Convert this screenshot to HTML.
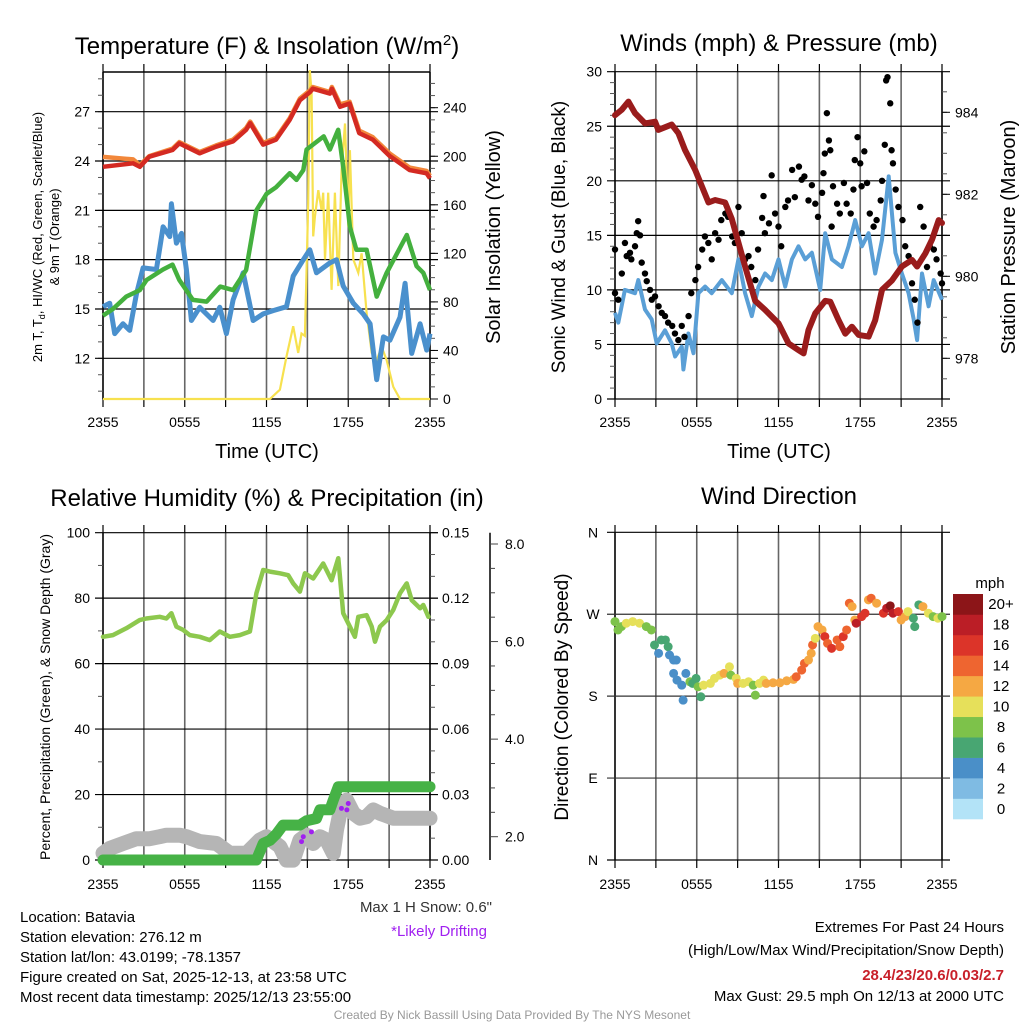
<!DOCTYPE html>
<html><head><meta charset="utf-8"><style>
html,body{margin:0;padding:0;background:#fff}
svg{display:block;font-family:"Liberation Sans",Arial,sans-serif}
</style></head><body>
<svg id="s" width="1024" height="1024" viewBox="0 0 1024 1024" xmlns="http://www.w3.org/2000/svg">
<rect width="1024" height="1024" fill="#fff"/>
<g id="g"></g>
<text x="267" y="54" font-size="24" text-anchor="middle">Temperature (F) &amp; Insolation (W/m<tspan dy="-9" font-size="15">2</tspan><tspan dy="9">)</tspan></text>
<text x="779" y="51" font-size="24" text-anchor="middle">Winds (mph) &amp; Pressure (mb)</text>
<text x="267" y="506" font-size="24" text-anchor="middle">Relative Humidity (%) &amp; Precipitation (in)</text>
<text x="779" y="504" font-size="24" text-anchor="middle">Wind Direction</text>
<text x="267" y="458" font-size="20" text-anchor="middle">Time (UTC)</text>
<text x="779" y="458" font-size="20" text-anchor="middle">Time (UTC)</text>
<text transform="translate(42,237) rotate(-90)" font-size="13" text-anchor="middle">2m T, T<tspan dy="3" font-size="9">d</tspan><tspan dy="-3">, HI/WC (Red, Green, Scarlet/Blue)</tspan></text>
<text transform="translate(59,237) rotate(-90)" font-size="13" text-anchor="middle">&amp; 9m T (Orange)</text>
<text transform="translate(500,237) rotate(-90)" font-size="20" text-anchor="middle">Solar Insolation (Yellow)</text>
<text transform="translate(565,237) rotate(-90)" font-size="19" text-anchor="middle">Sonic Wind &amp; Gust (Blue, Black)</text>
<text transform="translate(1015,237) rotate(-90)" font-size="20" text-anchor="middle">Station Pressure (Maroon)</text>
<text transform="translate(50,697) rotate(-90)" font-size="14" text-anchor="middle">Percent, Precipitation (Green), &amp; Snow Depth (Gray)</text>
<text transform="translate(568,697) rotate(-90)" font-size="19" text-anchor="middle">Direction (Colored By Speed)</text>
<text x="990" y="588" font-size="15" text-anchor="middle">mph</text>
<g font-size="15">
<text x="20" y="922">Location: Batavia</text>
<text x="20" y="942">Station elevation: 276.12 m</text>
<text x="20" y="962">Station lat/lon: 43.0199; -78.1357</text>
<text x="20" y="982">Figure created on Sat, 2025-12-13, at 23:58 UTC</text>
<text x="20" y="1002">Most recent data timestamp: 2025/12/13 23:55:00</text>
</g>
<text x="492" y="912" font-size="15" fill="#333" text-anchor="end">Max 1 H Snow: 0.6"</text>
<text x="487" y="936" font-size="15" fill="#a020f0" text-anchor="end">*Likely Drifting</text>
<g font-size="15" text-anchor="end">
<text x="1004" y="932">Extremes For Past 24 Hours</text>
<text x="1004" y="955">(High/Low/Max Wind/Precipitation/Snow Depth)</text>
<text x="1004" y="980" fill="#c8202a" font-weight="bold">28.4/23/20.6/0.03/2.7</text>
<text x="1004" y="1001">Max Gust: 29.5 mph On 12/13 at 2000 UTC</text>
</g>
<text x="512" y="1019" font-size="12" fill="#999" text-anchor="middle">Created By Nick Bassill Using Data Provided By The NYS Mesonet</text>
</svg>
<script>
// ---- Panel 1 data ----
const tTemp=[0,2.2,2.7,3.4,5.1,5.6,7.1,8.3,9.55,10.5,10.8,11.75,12.7,13.7,14.45,15.2,15.4,16.65,16.8,17.4,18.1,18.8,19.8,21.05,22.5,23.75,24];
const tempVals=[23.65,23.86,23.65,24.26,24.67,25.07,24.47,24.87,25.2,25.9,26.3,25,25.3,26.5,27.7,28.2,28.4,28.1,28.4,27.3,27.5,25.7,25.3,24.3,23.45,23.25,22.95];
const orangeVals=[24.25,24.1,23.75,24.3,24.75,25.15,24.55,24.95,25.3,26.0,26.4,25.1,25.4,26.6,27.8,28.3,28.5,28.2,28.5,27.45,27.6,25.85,25.45,24.45,23.6,23.4,23.1];
const tDew=[0,0.73,1.7,2.7,3.2,4.4,5.1,5.6,6.6,7.6,8.6,9.55,10.5,11.26,12,12.7,13.7,14.2,14.7,14.94,16.2,16.65,17.26,17.63,18.12,18.6,19.35,20.09,20.82,22.3,23.02,23.51,24];
const dewVals=[14.6,15.0,15.75,16.15,16.76,17.4,17.7,16.76,15.55,15.45,16.36,16.15,17.37,21.0,22.0,22.4,23.25,22.85,23.45,24.7,25.5,24.7,25.9,23.65,20.0,18.6,18.6,15.75,17.2,19.5,17.6,17.2,16.15];
const tWc=[0,0.49,0.86,1.47,1.96,2.45,2.94,3.92,4.41,4.9,5.02,5.39,5.76,6.12,6.49,7.1,8.08,8.57,9.06,9.55,10.29,11.02,11.76,12.49,13.47,13.96,14.7,15.18,15.67,16.65,17.14,17.63,18.37,19.1,19.6,20.09,20.58,21.06,21.8,22.17,22.66,23.27,23.76,24];
const wcVals=[15.14,15.35,13.5,14.1,13.7,15.9,17.5,17.4,20,19.4,21.4,19,19.6,17.4,14.3,15.1,14.3,15.1,13.5,15.55,17.2,14.3,14.7,14.9,15.14,17,18,18.6,17.2,17.8,18,16.4,15.35,14.7,14.1,10.7,13.3,13.1,14.5,16.56,12.3,14.1,12.5,13.5];
const tSolar=[0,12.25,12.98,13.47,13.96,14.33,14.57,14.82,15.06,15.18,15.31,15.43,15.55,15.8,16.04,16.16,16.29,16.53,16.78,17.02,17.27,17.51,17.76,18.0,18.12,18.37,18.74,18.98,19.35,19.72,20.09,20.45,20.82,21.31,21.8,24];
const solarVals=[0,0,7.7,35,60,38,54,52,161,271,252,134,150,172,156,170,115,170,90,170,93,189,227,142,205,115,104,120,71,38,32,43,32,10,0,0];
const p1Ticks=[12,15,18,21,24,27];
const p1RTicks=[0,40,80,120,160,200,240];
const timeLabels=["2355","0555","1155","1755","2355"];
// ---- Panel 2 data ----
const tWind=[0,0.24,0.73,1.47,1.71,2.2,2.69,3.06,3.67,4.16,4.41,4.9,5.02,5.39,5.76,6.12,6.61,7.1,7.84,8.57,9.06,9.55,10.04,10.53,11.02,11.51,12,12.49,12.98,13.47,13.96,14.45,15.06,15.43,15.92,16.65,17.14,17.63,18.12,18.61,19.1,19.6,20.09,20.58,21.06,21.55,21.92,22.17,22.53,23.02,23.39,24];
const windVals=[7.9,7,10,9.7,10.9,8.2,7.3,5.1,6.3,5.1,3.9,4.8,2.7,6,4.2,9.7,10.3,9.7,10.9,9.7,12.8,9.7,7.6,10.3,11.5,10.9,12.8,10.3,12.8,14,12.8,13.4,10,15.2,12.8,12.1,14,16.4,14,15.2,11.5,14.6,20.4,13.4,11.5,9.7,7.3,5.4,11.5,8.5,10.9,9.1];
const tGust=[0,0,0.24,0.5,0.73,0.86,1.1,1.2,1.47,1.6,1.7,1.84,1.96,2.2,2.33,2.57,2.7,2.94,3.2,3.43,3.67,3.9,4.2,4.4,4.65,4.9,5.1,5.4,5.6,5.9,6.1,6.4,6.6,6.85,7.1,7.35,7.6,7.8,8.1,8.3,8.6,8.8,9.06,9.3,9.55,9.8,10,10.3,10.5,10.8,10.9,11,11.3,11.5,11.75,12,12.2,12.5,12.7,13,13.2,13.5,13.7,13.9,14.2,14.45,14.7,14.9,15.2,15.3,15.4,15.55,15.7,15.8,15.9,16,16.3,16.5,16.8,17,17.3,17.5,17.6,17.8,18,18.1,18.3,18.5,18.7,18.98,19.2,19.5,19.6,19.8,19.9,20,20.2,20.3,20.4,20.6,20.8,21.1,21.3,21.55,21.8,22,22.2,22.4,22.65,22.9,23.1,23.4,23.6,23.9,24];
const gustVals=[13.7,9.7,9.1,11.5,14.3,13.1,13.4,12.8,14,15.2,16.3,15,12.5,11.5,10.8,10,9.1,9.4,8.5,7.9,7.6,7,6.7,6,5.4,6.7,5.7,7.6,9.7,10.9,12.1,13.7,14.9,14.3,12.8,15.2,14.6,16.4,17,16.7,14.9,14.3,17.6,15.2,12.8,13.1,12.1,10.9,13.7,16.6,18.6,15.2,16.1,20.5,17,15.8,14,17.6,18.2,21,18.5,21.3,20.1,20.4,18.2,19.6,17.9,16.7,18.9,20.7,22.5,26.2,23.7,22.8,15.8,19.5,17.9,17,19.8,17.9,17,19.2,21.9,24,21.6,19.5,22.7,19.8,17,15.8,16.4,18.2,20,23.3,29.2,29.5,27.1,22.8,21.6,19.2,17.6,16.4,14,13.1,10.6,9.1,7,17.6,15.8,12.1,14,13.7,12.8,11.5,10.6];
const tPres=[0,0.49,0.98,1.47,2.2,2.94,3.18,4.16,4.65,5.14,5.88,6.37,6.86,7.35,8.08,8.57,9.55,10.29,11.02,12,12.74,13.47,13.84,14.2,14.7,15.43,15.8,16.41,16.9,17.39,17.88,18.61,19.1,19.6,20.33,21.06,21.8,22.17,22.78,23.27,23.76,24];
const presVals=[983.93,984.06,984.26,983.98,983.73,983.77,983.57,983.7,983.49,983.08,982.6,982.2,981.8,981.86,981.8,981.4,980.24,979.4,979.18,978.85,978.36,978.2,978.12,978.69,979.1,979.4,979.38,978.93,978.6,978.77,978.57,978.53,978.93,979.67,979.9,980.24,980.4,980.24,980.56,980.9,981.37,981.3];
const windTicks=[0,5,10,15,20,25,30];
const presTicks=[978,980,982,984];
// ---- Panel 3 data ----
const tRh=[0,0.73,1.71,2.69,3.18,4.16,4.65,5.02,5.39,5.88,6.37,7.1,7.84,8.57,9.31,10.04,10.78,11.26,11.76,12.25,12.98,13.59,13.96,14.45,14.82,15.43,16.16,16.78,17.27,17.63,18.12,18.49,18.74,19.35,19.72,19.96,20.33,20.82,21.31,21.8,22.29,22.66,23.27,23.51,23.88];
const rhVals=[68.2,68.7,70.8,73.3,73.8,74.3,73.8,75.4,71.3,70.3,68.7,68.2,67.2,69.8,68.2,68.7,69.8,81.5,88.6,88.1,87.6,87,84.5,82,87.6,86,90.6,85.5,92.2,75.4,71.3,68.2,74.3,74.8,71.3,66.7,71.3,73.3,76.4,81.5,84.5,79.4,76.9,77.9,74.3];
const tPrecip=[0,11.26,11.76,12.25,12.74,13.22,14.45,14.94,15.67,15.92,16.65,16.9,17.27,24];
const precipVals=[0,0,0.0076,0.009,0.012,0.016,0.016,0.018,0.019,0.023,0.023,0.0275,0.0336,0.0336];
const tSnow=[0,0.49,1.47,2.45,3.43,4.16,4.65,5.63,6.12,7.1,8.33,9.31,10.53,11.51,12,12.49,12.98,13.47,13.96,14.45,14.94,15.43,15.92,16.41,16.9,17.14,17.39,17.88,18.37,18.86,19.35,19.84,20.33,21.31,24];
const snowVals=[1.66,1.76,1.86,1.96,1.96,2.0,2.03,2.03,2.0,1.9,1.86,1.66,1.66,1.93,2.0,1.9,1.8,1.52,1.52,1.93,2.03,1.86,2.0,1.93,1.66,2.14,2.48,2.75,2.48,2.38,2.41,2.55,2.48,2.38,2.38];
const tDrift=[14.57,14.7,15.3,17.5,17.9,18.0];
const driftVals=[1.9,2.0,2.1,2.58,2.55,2.68];
const rhTicks=[0,20,40,60,80,100];
const precipTicks=["0.00","0.03","0.06","0.09","0.12","0.15"];
const snowTicks=["2.0","4.0","6.0","8.0"];
// ---- Panel 4 data ----
const tDir=[0,0.22,0.47,0.83,1.3,1.8,2.3,2.67,2.9,3.2,3.4,3.7,3.9,4.0,4.3,4.5,4.3,4.55,4.9,5.0,5.2,5.5,5.7,5.95,6.1,6.3,6.5,7.0,7.3,7.7,8.0,8.4,8.5,8.9,9.0,9.4,9.8,10.15,10.3,10.6,10.9,11.1,11.6,12.1,12.6,13.1,13.3,13.7,13.9,14.2,14.4,14.5,14.7,14.9,15.2,15.4,15.6,15.9,16.3,16.5,16.75,17.0,17.2,17.4,17.6,17.7,18.1,18.35,18.6,18.8,19.2,19.7,19.94,20.2,20.4,20.8,21.0,21.3,21.5,21.9,22.0,22.3,22.6,23.0,23.35,23.7,24];
const dirVals=[261.9,252.7,256.4,260.1,261.9,260.1,256.4,252.7,236.2,227,241.7,241.7,234.4,225.2,219.7,219.7,205,197.6,192.1,175.6,205,195.8,194,199.5,190.3,179.3,192.1,194,199.5,203.1,205,212.3,203.1,199.5,194,194,195.8,192.1,181.1,194,197.6,194,194.7,194.7,196.9,198.4,201.3,208.6,216,219.7,227,236.2,243.5,256.4,252.7,245.4,238,232.5,241.7,234.4,245.4,252.7,282.1,278.4,263.7,260.1,267.4,271.1,285.8,287.6,282.1,271.1,276.6,279.2,271.1,272.9,263.7,267.4,272.9,265.6,256.4,280.3,278.4,271.1,267.4,265.6,267.4];
const dirSpeed=[8,7,8,10,10,10,8,7,5,4,6,6,6,4,4,4,4,4,4,4,4,7,6,6,7,6,10,10,10,10,11,10,7,10,12,10,10,8,8,10,10,12,12,12,12,12,14,13,14,12,12,14,10,12,12,15,14,15,13,14,15,13,14,12,12,18,15,16,12,14,12,16,18,20,17,15,12,12,10,6,6,6,11,10,8,9,8];
const dirTicks=["N","E","S","W","N"];
const cbLabels=["0","2","4","6","8","10","12","14","16","18","20+"];
const cbColors=["#b3e3f7","#7fbbe3","#4a8fc8","#48a672","#7dc24a","#e6e05a","#f5a843","#ee6530","#dc3429","#bb1e26","#8c1518"];

const NS="http://www.w3.org/2000/svg";
const G=document.getElementById('g');
function mk(tag,attrs,parent){const e=document.createElementNS(NS,tag);for(const k in attrs)e.setAttribute(k,attrs[k]);(parent||G).appendChild(e);return e;}
function lin(d0,d1,r0,r1){return v=>r0+(v-d0)*(r1-r0)/(d1-d0);}
function pathD(ts,vs,sx,sy){return ts.map((t,i)=>(i?'L':'M')+sx(t).toFixed(1)+','+sy(vs[i]).toFixed(1)).join('');}

const L=103,R=430,L2=615,R2=942,T1=72,B1=399,T2=533,B2=860;
function frame(x0,x1,y0,y1,name){
  const g=mk('g',{});
  
  
  for(let i=0;i<=8;i++){const x=x0+i*(x1-x0)/8;
    mk('line',{x1:x,x2:x,y1:y0,y2:y1,stroke:(i==0||i==8)?'#000':'#666','stroke-width':1.6},g);
    mk('line',{x1:x,x2:x,y1:y1,y2:y1+8,stroke:'#000','stroke-width':1.2},g);
    mk('line',{x1:x,x2:x,y1:y0,y2:y0-8,stroke:'#000','stroke-width':1.2},g);}
  return g;
}
function xLabels(x0,x1,y){timeLabels.forEach((s,i)=>{const t=mk('text',{x:x0+i*(x1-x0)/4,y:y,'font-size':14,'text-anchor':'middle'});t.textContent=s;
  
  });}
function hgrid(g,x0,x1,y,c){mk('line',{x1:x0-8,x2:x1+8,y1:y,y2:y,stroke:c||'#000','stroke-width':1.2},g);}
function minor(g,x,y,dir){mk('line',{x1:x,x2:x+dir*5,y1:y,y2:y,stroke:'#555','stroke-width':1},g);}
function yLabel(x,y,s,anchor){const t=mk('text',{x:x,y:y+5,'font-size':14,'text-anchor':anchor});t.textContent=s;
  
  }

// ===== Panel 1 =====
{
const sx=lin(0,24,L,R), sy=lin(12,27,358.3,111.7), sr=lin(0,240,399,107.7);
const g=frame(L,R,T1,B1,'temp-panel');
for(let v=10;v<=29;v++){const y=sy(v);if(y<T1||y>B1)continue;minor(g,L,y,-1);}
for(let v=10;v<=270;v+=10){const y=sr(v);if(y<T1)continue;minor(g,R,y,1);}
p1Ticks.forEach(v=>{hgrid(g,L,R,sy(v));yLabel(L-13,sy(v),String(v),'end');});
p1RTicks.forEach(v=>{mk('line',{x1:R,x2:R+8,y1:sr(v),y2:sr(v),stroke:'#000'},g);yLabel(R+13,sr(v),String(v),'start');});
mk('line',{x1:L,x2:R,y1:T1,y2:T1,stroke:'#000','stroke-width':1.4},g);
mk('line',{x1:L,x2:R,y1:B1,y2:B1,stroke:'#000','stroke-width':1.4},g);
const ys=mk('path',{d:pathD(tSolar,solarVals,sx,sr),fill:'none',stroke:'#f7e14f','stroke-width':2.2});


const wc=mk('path',{d:pathD(tWc,wcVals,sx,sy),fill:'none',stroke:'#4a90cd','stroke-width':5,'stroke-linejoin':'round'});


const dw=mk('path',{d:pathD(tDew,dewVals,sx,sy),fill:'none',stroke:'#44b03e','stroke-width':4.5,'stroke-linejoin':'round'});


const or=mk('path',{d:pathD(tTemp,orangeVals,sx,sy),fill:'none',stroke:'#f2873a','stroke-width':4.5,'stroke-linejoin':'round'});


const rd=mk('path',{d:pathD(tTemp,tempVals,sx,sy),fill:'none',stroke:'#d42a22','stroke-width':4.5,'stroke-linejoin':'round'});


xLabels(L,R,427);
}
// ===== Panel 2 =====
{
const sx=lin(0,24,L2,R2), sy=lin(0,30,399,71.7), sp=lin(978,984,358.3,112.3);
const g=frame(L2,R2,T1,B1,'wind-panel');
for(let v=1;v<=29;v++){if(v%5)minor(g,L2,sy(v),-1);}
for(let v=976.5;v<=985;v+=0.5){const y=sp(v);if(y<T1||y>B1)continue;minor(g,R2,y,1);}
windTicks.forEach(v=>{hgrid(g,L2,R2,sy(v));yLabel(L2-13,sy(v),String(v),'end');});
presTicks.forEach(v=>{mk('line',{x1:R2,x2:R2+8,y1:sp(v),y2:sp(v),stroke:'#000'},g);yLabel(R2+13,sp(v),String(v),'start');});
const wl=mk('path',{d:pathD(tWind,windVals,sx,sy),fill:'none',stroke:'#5a9fd6','stroke-width':4,'stroke-linejoin':'round'});


tGust.forEach((t,i)=>{const c=mk('circle',{cx:sx(t),cy:sy(gustVals[i]),r:3.2,fill:'#000'});

});
const pl=mk('path',{d:pathD(tPres,presVals,sx,sp),fill:'none',stroke:'#9a1c1c','stroke-width':6,'stroke-linejoin':'round','stroke-linecap':'round'});


xLabels(L2,R2,427);
}
// ===== Panel 3 =====
{
const sx=lin(0,24,L,R), sy=lin(0,100,860,532.7), spr=lin(0,0.15,860,532.7), ss=lin(2,8,836.7,544);
const g=frame(L,R,T2,B2,'rh-panel');
for(let v=10;v<100;v+=20)minor(g,L,sy(v),-1);
for(let v=0.01;v<0.15;v+=0.01){if(Math.round(v*100)%3)minor(g,R,spr(v),1);}
rhTicks.forEach(v=>{hgrid(g,L,R,sy(v));yLabel(L-13,sy(v),String(v),'end');});
precipTicks.forEach(s=>{const y=spr(parseFloat(s));mk('line',{x1:R,x2:R+8,y1:y,y2:y,stroke:'#000'},g);yLabel(R+12,y,s,'start');});
mk('line',{x1:490,x2:490,y1:532.7,y2:860,stroke:'#000','stroke-width':1.5},g);
for(let v=1.5;v<=8.2;v+=0.5){const y=ss(v);if(y<532||y>860)continue;mk('line',{x1:490,x2:(v%2==0)?498:495,y1:y,y2:y,stroke:'#444'},g);}
snowTicks.forEach(s=>yLabel(505,ss(parseFloat(s)),s,'start'));
mk('clipPath',{id:'c3'}).appendChild(document.createElementNS(NS,'rect'));
const cr=document.querySelector('#c3 rect');cr.setAttribute('x',L-14);cr.setAttribute('y',T2);cr.setAttribute('width',R-L+28);cr.setAttribute('height',B2-T2+8);
const sn=mk('path',{d:pathD(tSnow,snowVals,sx,ss),fill:'none',stroke:'#b5b5b5','stroke-width':15,'stroke-linejoin':'round','stroke-linecap':'round','clip-path':'url(#c3)'});


tDrift.forEach((t,i)=>{const c=mk('circle',{cx:sx(t),cy:ss(driftVals[i]),r:2.5,fill:'#a020f0'});

});
const pr=mk('path',{d:pathD(tPrecip,precipVals,sx,spr),fill:'none',stroke:'#46b246','stroke-width':11,'stroke-linejoin':'round','stroke-linecap':'round'});


const rh=mk('path',{d:pathD(tRh,rhVals,sx,sy),fill:'none',stroke:'#8dc84e','stroke-width':4.5,'stroke-linejoin':'round','stroke-linecap':'round'});


xLabels(L,R,889);
}
// ===== Panel 4 =====
{
const sx=lin(0,24,L2,R2), sy=lin(0,360,860,532.3);
const g=frame(L2,R2,T2,B2,'direction-panel');
dirTicks.forEach((s,i)=>{const y=sy(i*90);hgrid(g,L2,R2,y,i%4?'#333':'#000');yLabel(L2-22,y,s,'middle');});
tDir.forEach((t,i)=>{const b=Math.min(10,Math.round(dirSpeed[i]/2));const c=mk('circle',{cx:sx(t),cy:sy(dirVals[i]),r:4.5,fill:cbColors[b]});

});
const h=(819-594)/11;
cbColors.forEach((col,i)=>{const y=819-(i+1)*h;const r=mk('rect',{x:953,y:y,width:30,height:h+0.3,fill:col});


const t=mk('text',{x:1001,y:y+h/2+5,'font-size':15,'text-anchor':'middle'});t.textContent=cbLabels[i];

});
xLabels(L2,R2,889);
}
</script>
</body></html>
